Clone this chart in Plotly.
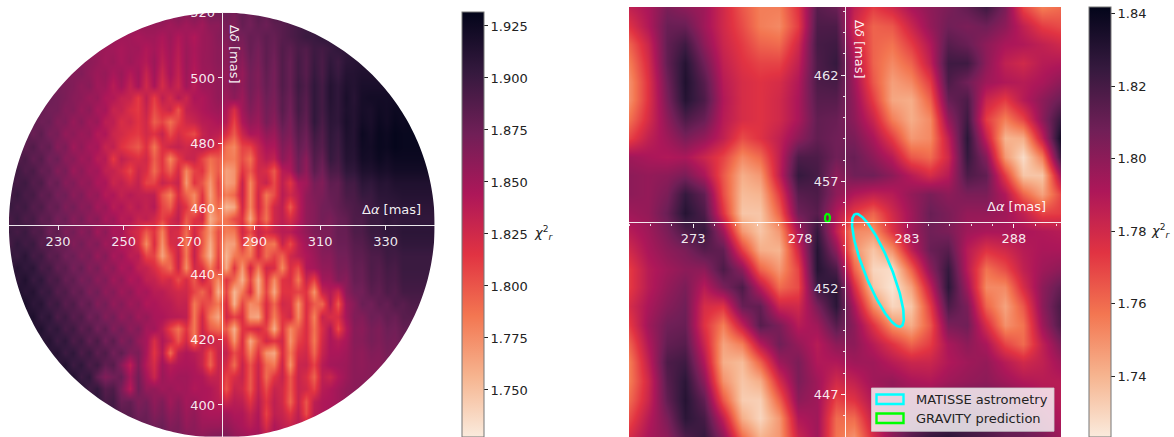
import numpy as np
import plotly.graph_objects as go

W, H = 1174, 437

ROCKET_R = [[0, "#faebdd"], [1/7, "#f6b48f"], [2/7, "#f37651"], [3/7, "#e13342"],
            [4/7, "#ad1759"], [5/7, "#701f57"], [6/7, "#35193e"], [1, "#03051a"]]

# reduced chi2, in thousandths above 1.700
LEFT_RA = [215 + 130 * i / 53 for i in range(54)]
LEFT_DEC = [520 - 130 * j / 35 for j in range(36)]
LEFT_MILLI = [
 [160,160,160,160,160,160,160,160,160, 160,160,160,160,160,160,160,160,160, 160,165,160,165,160,165,160,170,170, 175,170,180,175,185,180,190,190,195, 200,200,200,205,205,205,205,210,210, 210,210,210,210,210,210,210,210,210],
 [155,155,155,155,155,155,155,155,155, 155,155,155,155,155,155,155,155,155, 155,155,150,155,150,155,150,160,160, 170,165,178,172,180,175,182,185,190, 195,198,200,205,205,205,205,210,210, 210,210,210,210,210,210,210,210,210],
 [155,155,155,155,155,155,155,155,155, 155,155,155,155,155,150,150,146,150, 150,144,152,142,150,142,152,155,162, 165,172,170,178,175,182,178,185,190, 195,200,200,205,205,205,205,210,210, 210,210,210,210,210,210,210,210,210],
 [160,160,160,160,160,160,160,160,160, 155,155,155,152,150,146,150,150,142, 148,140,150,138,152,145,152,155,160, 160,170,165,178,170,182,175,188,182, 192,188,198,195,200,205,205,210,210, 210,210,210,210,210,210,210,210,210],
 [165,165,165,165,165,165,165,165,162, 162,160,156,150,153,146,152,146,140, 152,135,148,135,153,143,153,155,160, 160,168,160,175,168,182,172,188,178, 195,185,200,192,205,198,208,210,212, 212,212,212,212,212,212,212,212,212],
 [168,168,168,168,168,168,168,166,164, 165,158,152,155,146,153,140,150,130, 150,128,148,132,152,140,152,153,158, 155,165,155,172,165,180,170,188,178, 195,185,202,192,208,200,212,212,215, 215,215,215,215,215,215,215,215,215],
 [170,170,170,170,170,170,170,168,165, 158,162,150,152,138,150,132,148,125, 146,122,140,128,150,138,152,152,157, 157,165,157,172,165,178,170,188,178, 198,188,205,195,212,205,215,212,218, 218,218,218,218,218,218,218,218,218],
 [175,175,175,175,175,175,172,168,162, 160,152,155,143,142,132,130,112,135, 110,135,122,140,128,145,143,150,157, 152,160,152,170,160,175,168,185,175, 195,185,205,195,212,205,218,210,220, 222,222,222,222,222,222,222,222,222],
 [175,175,175,175,178,172,172,163,164, 154,160,146,148,130,132,118,112,130, 104,120,128,100,133,138,143,148,152, 143,120,150,165,157,172,165,185,172, 195,183,205,195,210,205,216,212,220, 218,224,222,226,226,228,228,228,228],
 [178,181,176,182,174,176,164,166,154, 162,150,154,136,136,120,126,115,125, 96,108,88,108,125,130,138,140,145, 138,108,143,157,152,170,160,180,168, 190,180,205,192,208,205,218,212,222, 218,226,222,228,225,228,228,228,228],
 [184,180,186,176,182,168,170,156,160, 152,156,140,144,128,124,116,112,124, 116,130,104,122,112,104,130,138,135, 120,98,128,145,143,157,152,172,165, 185,175,198,188,206,200,216,212,226, 220,228,225,230,228,228,228,228,228],
 [186,192,182,188,176,180,162,168,150, 158,146,148,130,134,116,106,98,118, 86,118,128,132,125,130,138,132,120, 87,78,108,108,130,145,143,165,157, 180,170,192,185,204,198,214,212,224, 222,228,226,230,228,228,228,228,228],
 [194,186,192,180,186,170,176,160,162, 150,154,138,140,112,134,124,118,125, 96,115,78,110,128,130,108,88,98, 85,82,104,87,125,138,132,160,150, 175,160,188,178,202,195,212,210,222, 220,226,222,226,226,226,226,226,226],
 [190,198,188,192,178,180,164,170,152, 160,148,150,134,132,122,106,128,120, 90,115,96,122,78,108,115,82,98, 65,72,115,98,125,120,98,138,143, 172,157,183,172,192,190,206,205,216, 215,220,218,222,222,222,222,222,222],
 [200,194,198,186,190,172,178,162,166, 154,158,144,146,128,134,122,132,108, 108,130,122,130,70,115,100,70,108, 65,72,130,78,120,130,105,135,115, 145,150,170,165,182,180,196,195,208, 205,212,210,215,215,215,215,215,215],
 [194,202,192,194,180,184,170,174,160, 166,152,156,140,144,132,140,134,134, 135,100,80,120,95,76,115,65,104, 82,92,130,78,125,85,104,138,125, 138,157,166,168,178,180,192,192,202, 200,208,208,210,212,212,212,212,212],
 [202,194,198,186,190,176,180,166,172, 160,164,148,154,138,144,132,140,132, 140,108,96,130,115,80,120,72,92, 55,62,125,78,125,92,125,135,98, 135,157,163,172,174,180,186,190,194, 198,204,205,206,208,208,208,208,208],
 [192,200,190,194,180,184,170,176,162, 170,156,162,146,152,138,142,130,135, 125,108,122,135,98,115,125,58,82, 87,104,115,62,115,87,125,135,120, 138,157,163,172,168,176,180,190,190, 200,200,205,202,205,205,205,205,205],
 [200,194,200,188,190,174,182,166,172, 160,168,150,160,144,148,128,122,98, 115,80,125,120,90,125,98,70,104, 82,84,125,104,130,120,130,138,138, 148,157,166,168,168,178,178,190,190, 200,200,205,204,208,208,208,208,208],
 [194,204,196,200,184,190,174,180,164, 172,160,166,150,156,138,142,122,76, 120,72,120,125,82,130,100,60,104, 65,67,115,72,125,90,84,130,105, 135,150,156,165,168,176,176,185,186, 195,196,200,200,205,205,205,205,205],
 [204,200,208,194,198,182,186,172,176, 164,170,154,164,146,152,136,138,108, 108,65,98,130,84,132,92,55,108, 55,84,92,84,122,90,108,94,125, 135,143,152,162,162,172,172,182,182, 190,190,198,196,200,200,200,200,200],
 [200,212,204,208,192,196,180,184,170, 178,162,170,154,160,144,150,134,132, 120,104,90,128,75,125,115,82,115, 60,115,70,125,84,125,120,77,120, 104,143,148,157,158,170,168,180,178, 190,186,195,192,200,200,200,200,200],
 [212,206,214,200,206,190,194,178,182, 168,174,160,166,150,158,142,148,134, 132,120,125,104,122,98,130,104,75, 115,92,58,108,58,115,75,115,120, 84,130,108,150,150,165,162,178,176, 188,184,192,190,198,198,198,198,198],
 [206,216,208,212,198,202,186,190,176, 182,166,174,158,164,150,158,144,148, 138,138,130,125,126,108,92,115,58, 108,55,84,120,62,108,62,115,115, 108,115,72,130,140,125,160,172,172, 184,180,190,186,195,195,195,195,195],
 [216,210,218,206,210,194,200,184,190, 174,182,164,172,156,164,150,156,142, 145,140,138,130,132,84,108,100,84, 120,58,108,75,82,120,92,125,120, 72,120,98,92,138,98,150,162,176, 172,182,178,188,184,190,190,190,190],
 [208,220,212,216,202,208,190,198,184, 190,172,180,164,172,156,164,150,156, 146,145,140,138,135,84,125,82,62, 125,108,120,67,62,120,82,115,125, 77,120,80,130,120,120,148,165,164, 175,172,180,176,185,185,185,185,185],
 [218,212,220,210,214,200,206,192,198, 182,190,172,182,164,174,158,166,148, 150,136,108,87,115,84,128,98,90, 98,58,115,120,125,108,60,115,77, 98,120,87,120,143,104,140,162,160, 170,166,175,172,180,180,180,180,180],
 [212,222,216,220,206,212,198,206,190, 198,180,192,172,184,164,174,156,148, 120,143,128,100,125,84,132,135,125, 120,72,120,62,98,125,115,125,72, 108,120,84,125,145,138,146,162,162, 170,166,172,170,178,178,178,178,178],
 [220,216,224,214,218,206,212,198,206, 190,200,182,190,172,182,164,168,146, 115,140,90,135,143,138,130,100,130, 132,104,120,80,115,72,62,120,84, 120,125,92,130,145,145,150,160,158, 165,163,170,168,175,175,175,175,175],
 [216,224,218,224,212,218,204,214,198, 206,190,198,180,186,162,135,166,140, 122,150,138,143,145,143,130,94,130, 122,90,130,100,128,92,84,128,72, 128,130,108,138,148,150,152,160,158, 162,162,168,168,172,172,172,172,172],
 [226,220,228,220,226,212,220,206,214, 198,206,180,165,172,178,148,172,148, 128,153,145,150,150,145,143,130,132, 108,120,130,98,130,90,115,130,98, 130,120,94,135,128,143,152,160,160, 162,165,165,168,170,170,170,170,170],
 [220,228,222,230,220,226,214,222,206, 212,196,204,186,190,168,138,174,156, 157,150,153,148,150,142,145,143,135, 100,130,125,98,132,104,130,125,98, 130,125,108,138,143,150,157,160,163, 162,165,165,168,170,170,170,170,170],
 [222,224,224,224,224,222,220,218,214, 216,204,206,192,196,176,180,166,172, 158,166,150,160,148,152,145,143,138, 128,138,135,115,138,115,135,125,92, 130,100,135,143,145,150,157,160,163, 162,165,165,168,170,170,170,170,170],
 [222,222,222,222,222,220,218,216,212, 212,202,206,194,196,184,184,172,176, 164,170,158,164,152,157,148,145,145, 150,143,143,130,143,108,135,130,115, 135,104,138,143,148,150,157,160,163, 162,165,165,168,170,170,170,170,170],
 [215,215,215,215,215,215,215,212,210, 205,202,198,194,190,186,182,180,178, 172,176,164,168,156,160,152,153,153, 157,150,145,138,145,120,143,135,130, 138,135,143,145,150,153,157,160,163, 162,165,165,168,170,170,170,170,170],
 [210,210,210,210,210,210,210,208,206, 202,198,195,192,190,188,186,184,180, 178,175,172,168,165,160,160,165,168, 168,157,153,150,150,138,145,145,143, 143,143,145,150,153,157,160,160,163, 162,165,165,168,170,170,170,170,170],
]

# reduced chi2, in thousandths above 1.700
RIGHT_RA = [270 + 20.2 * i / 23 for i in range(24)]
RIGHT_DEC = [465.2 - 20.2 * j / 23 for j in range(24)]
RIGHT_MILLI = [
 [85,92,105,100,95,80,65,55,55,75,115,110,85,72,80,92,100,105,112,122,105,70,55,60],
 [75,90,110,110,95,80,68,55,52,72,118,118,80,62,65,82,98,108,105,108,100,85,72,68],
 [62,82,112,122,100,82,72,62,60,80,120,122,85,62,58,72,90,115,110,100,92,90,85,80],
 [55,78,112,130,108,85,75,70,70,85,118,125,92,62,52,62,85,122,122,100,85,80,88,90],
 [50,75,108,132,115,88,78,75,78,90,118,120,95,65,46,52,72,118,108,95,90,88,92,100],
 [50,75,105,130,118,90,78,75,80,92,115,115,98,72,44,42,62,110,118,82,72,88,100,110],
 [58,78,100,118,110,88,78,75,80,92,112,110,100,82,55,42,52,98,122,72,55,70,100,125],
 [70,85,95,105,98,85,68,75,85,100,112,108,105,92,72,48,52,85,128,85,40,42,85,138],
 [95,92,90,92,82,70,52,60,85,118,118,108,110,100,88,65,60,80,125,102,48,28,55,125],
 [100,98,100,105,92,65,42,48,85,125,120,100,108,108,100,88,78,88,118,112,72,35,35,95],
 [100,98,105,125,112,68,38,40,72,115,118,100,90,85,88,98,105,100,105,105,90,62,45,70],
 [95,98,110,130,118,75,35,35,62,108,115,90,72,62,80,95,110,105,98,98,95,85,70,72],
 [88,95,105,118,125,95,48,35,48,92,125,85,52,50,75,95,108,105,95,92,92,92,90,88],
 [80,92,100,105,115,112,72,42,40,80,130,100,50,35,50,85,110,115,88,75,80,88,92,92],
 [72,88,95,100,100,118,100,62,48,70,130,118,62,30,28,62,100,125,88,58,68,85,95,100],
 [72,88,98,105,88,105,118,88,60,68,122,130,78,35,25,45,85,128,95,52,52,78,100,112],
 [78,92,102,108,78,75,110,112,82,80,105,128,92,52,30,35,72,118,105,62,45,65,100,120],
 [72,95,108,110,75,55,85,115,105,88,95,115,100,75,50,42,65,105,108,78,50,58,95,118],
 [62,90,112,115,82,45,55,88,108,98,88,100,100,88,75,62,72,92,100,92,70,60,85,105],
 [55,85,118,122,90,42,38,62,95,105,90,90,95,95,88,82,82,90,95,98,88,80,85,95],
 [55,80,115,128,100,50,35,42,78,105,95,80,85,95,98,92,90,95,98,100,95,90,88,88],
 [60,82,112,130,112,65,33,32,62,100,95,70,75,90,100,100,100,105,108,108,105,100,92,88],
 [68,88,105,128,120,85,42,30,48,90,95,60,60,85,100,108,110,115,118,115,110,108,98,90],
 [78,92,100,118,125,100,60,40,48,82,95,58,50,78,100,115,125,128,122,118,112,110,105,95],
]

LEFT_CENTRE = (280.0, 455.0)
LEFT_RADIUS = 65.0
LEFT_XTICKS = [230, 250, 270, 290, 310, 330]
LEFT_YTICKS = [400, 420, 440, 460, 480, 500, 520]
RIGHT_XTICKS = [273, 278, 283, 288]
RIGHT_YTICKS = [447, 452, 457, 462]
# ellipse: centre ra, centre dec, semi-major, semi-minor, tilt from north (deg)
MATISSE_ELLIPSE = (281.64, 452.83, 2.85, 0.62, -22.0)
GRAVITY_ELLIPSE = (279.28, 455.29, 0.20, 0.12, 0.0)
LEGEND_LABELS = ["MATISSE astrometry", "GRAVITY prediction"]
LEGEND_COLOURS = ["#00ffff", "#00ff00"]


def to_chi2(rows):
    return [[1.7 + v / 1000 for v in r] for r in rows]


def ellipse(e):
    cx, cy, a, b, tilt = e
    t = np.linspace(0, 2 * np.pi, 181)
    r = np.radians(tilt)
    u, v = a * np.cos(t), b * np.sin(t)
    return cx + u * np.sin(r) + v * np.cos(r), cy + u * np.cos(r) - v * np.sin(r)


fig = go.Figure()
fig.add_trace(go.Heatmap(
    x=LEFT_RA, y=LEFT_DEC, z=to_chi2(LEFT_MILLI), zsmooth="best", colorscale=ROCKET_R,
    zmin=1.7274, zmax=1.9317, hoverinfo="skip",
    colorbar=dict(x=462/W, xanchor="left", y=1-12/H, yanchor="top", len=425/H, lenmode="fraction",
                  thickness=22, thicknessmode="pixels", xpad=0, ypad=0, tick0=1.75, dtick=0.025,
                  tickformat=".3f", ticks="outside", ticklen=4, tickcolor="#222", outlinecolor="#777",
                  outlinewidth=1, tickfont=dict(family="DejaVu Sans", size=13, color="#222")),
    xaxis="x", yaxis="y"))
fig.add_trace(go.Heatmap(
    x=RIGHT_RA, y=RIGHT_DEC, z=to_chi2(RIGHT_MILLI), zsmooth="best", colorscale=ROCKET_R,
    zmin=1.7232, zmax=1.8419, hoverinfo="skip",
    colorbar=dict(x=1089/W, xanchor="left", y=1-7/H, yanchor="top", len=430/H, lenmode="fraction",
                  thickness=22, thicknessmode="pixels", xpad=0, ypad=0, tick0=1.74, dtick=0.02,
                  tickformat=".2f", ticks="outside", ticklen=4, tickcolor="#222", outlinecolor="#777",
                  outlinewidth=1, tickfont=dict(family="DejaVu Sans", size=13, color="#222")),
    xaxis="x2", yaxis="y2"))
for e, c, w in ((MATISSE_ELLIPSE, LEGEND_COLOURS[0], 2.6), (GRAVITY_ELLIPSE, LEGEND_COLOURS[1], 2.2)):
    ex, ey = ellipse(e)
    fig.add_trace(go.Scatter(x=ex, y=ey, mode="lines", line=dict(color=c, width=w), showlegend=False,
                             hoverinfo="skip", xaxis="x2", yaxis="y2"))

axis_common = dict(anchor="free", showgrid=False, zeroline=False, showline=True, linecolor="rgba(255,255,255,0.9)",
                   linewidth=1.4, ticks="outside", ticklen=4, tickwidth=1.1, tickcolor="rgba(255,255,255,0.9)",
                   tickfont=dict(family="DejaVu Sans", size=13, color="rgba(255,255,255,0.92)"), layer="above traces")
minor = dict(ticks="outside", ticklen=2.5, tickwidth=0.8, tickcolor="rgba(255,255,255,0.85)", dtick=1)
LEFT_XDOM = [8.9/W, 434.7/W]
LEFT_YDOM = [0, 1-12.6/H]
LEFT_XRANGE = [215, 345]
LEFT_YRANGE = [390.2, 520]
fig.update_layout(
    width=W, height=H, autosize=False, margin=dict(l=0, r=0, t=0, b=0, autoexpand=False),
    paper_bgcolor="white", plot_bgcolor="white", showlegend=False,
    xaxis=dict(domain=LEFT_XDOM, range=LEFT_XRANGE, position=1-225.2/H, side="bottom",
               tickmode="array", tickvals=LEFT_XTICKS, **axis_common),
    yaxis=dict(domain=LEFT_YDOM, range=LEFT_YRANGE, position=221.8/W, side="left",
               tickmode="array", tickvals=LEFT_YTICKS, **axis_common),
    xaxis2=dict(domain=[629/W, 1061/W], range=[270, 290.2], position=1-222.3/H, side="bottom",
                tickmode="array", tickvals=RIGHT_XTICKS, minor=minor, **axis_common),
    yaxis2=dict(domain=[0, 1-7/H], range=[445, 465.2], position=845.3/W, side="left",
                tickmode="array", tickvals=RIGHT_YTICKS, minor=minor, **axis_common),
)

# white surround (paper coordinates, so it also hides the square edge) leaving the circular field
theta = np.linspace(0, 2 * np.pi, 361)
ra = LEFT_CENTRE[0] + LEFT_RADIUS * np.cos(theta)
dec = LEFT_CENTRE[1] + LEFT_RADIUS * np.sin(theta)
px = LEFT_XDOM[0] + (ra - LEFT_XRANGE[0]) / (LEFT_XRANGE[1] - LEFT_XRANGE[0]) * (LEFT_XDOM[1] - LEFT_XDOM[0])
py = LEFT_YDOM[0] + (dec - LEFT_YRANGE[0]) / (LEFT_YRANGE[1] - LEFT_YRANGE[0]) * (LEFT_YDOM[1] - LEFT_YDOM[0])
hole = "M" + " L".join(f"{a:.5f},{b:.5f}" for a, b in zip(px, py)) + " Z"
x0, x1, y0, y1 = 5/W, 438/W, -0.01, 1-9/H
outer = f"M {x0:.5f},{y0:.5f} L {x1:.5f},{y0:.5f} L {x1:.5f},{y1:.5f} L {x0:.5f},{y1:.5f} Z"
shapes = [dict(type="path", path=outer + " " + hole, xref="paper", yref="paper", fillcolor="white",
               line=dict(width=0), layer="above")]

# legend of the right map
shapes.append(dict(type="rect", xref="paper", yref="paper", x0=871.5/W, x1=1054/W, y0=1-431.3/H, y1=1-388/H,
                   fillcolor="rgba(255,255,255,0.8)", line=dict(color="rgba(204,204,204,0.8)", width=1), layer="above"))
annotations = []
for i, (label, colour) in enumerate(zip(LEGEND_LABELS, LEGEND_COLOURS)):
    top = 394.5 + 19 * i
    shapes.append(dict(type="rect", xref="paper", yref="paper", x0=876.5/W, x1=903.5/W, y0=1-(top+9.5)/H, y1=1-top/H,
                       fillcolor="rgba(0,0,0,0)", line=dict(color=colour, width=2.4), layer="above"))
    annotations.append(dict(text=label, xref="paper", yref="paper", x=914/W, y=1-(top+4.7)/H, xanchor="left",
                            yanchor="middle", showarrow=False, font=dict(family="DejaVu Sans", size=13, color="#222")))

white_font = dict(family="DejaVu Sans", size=13, color="rgba(255,255,255,0.95)")
for txt, x, y, ang in (("Δ<i>α</i> [mas]", 391, 209, 0), ("Δ<i>δ</i> [mas]", 235, 54, 90),
                       ("Δ<i>α</i> [mas]", 1016, 207, 0), ("Δ<i>δ</i> [mas]", 859, 49, 90)):
    annotations.append(dict(text=txt, xref="paper", yref="paper", x=x/W, y=1-y/H, xanchor="center", yanchor="middle",
                            showarrow=False, textangle=ang, font=white_font))
for x, y in ((544, 233), (1161, 231)):
    annotations.append(dict(text="<i>χ</i><sup>2</sup><sub><i>r</i></sub>", xref="paper", yref="paper", x=x/W, y=1-y/H,
                            xanchor="center", yanchor="middle", showarrow=False,
                            font=dict(family="DejaVu Sans", size=13, color="#222")))
fig.update_layout(shapes=shapes, annotations=annotations)

fig.write_html("out.html", config=dict(displayModeBar=False),
               post_script="document.body.style.margin='0';document.body.style.overflow='hidden';")
